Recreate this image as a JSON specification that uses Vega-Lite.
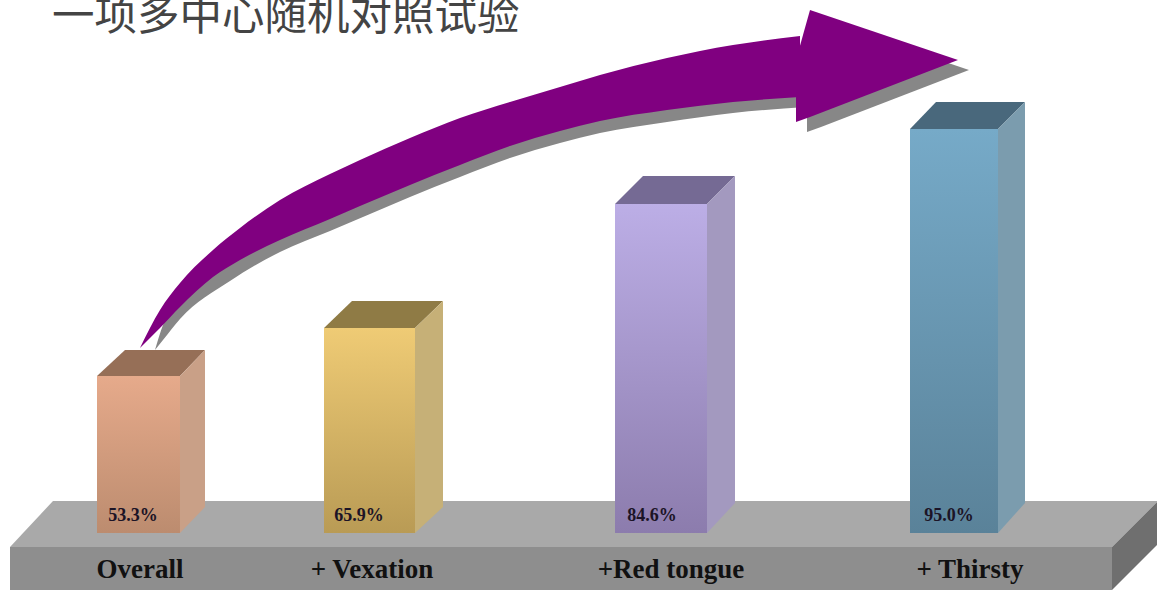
{"$schema":"https://vega.github.io/schema/vega-lite/v6.json","width":1157,"height":590,"padding":0,"autosize":{"type":"none"},"background":"white","config":{"view":{"stroke":null}},"title":{"text":"一项多中心随机对照试验","anchor":"start","frame":"group","font":"Noto Sans CJK SC","fontSize":42.5,"fontWeight":"normal","color":"#444444","baseline":"alphabetic","offset":-72,"dx":52},"datasets":{"bars":[{"condition":"Overall","label":"Overall","step":1,"rate":53.3,"text":"53.3%"},{"condition":"Vexation","label":"+ Vexation","step":2,"rate":65.9,"text":"65.9%"},{"condition":"Red tongue","label":"+Red tongue","step":3,"rate":84.6,"text":"84.6%"},{"condition":"Thirsty","label":"+ Thirsty","step":4,"rate":95.0,"text":"95.0%"}],"scene":[{"part":"floor top","across":10,"upper":547,"lower":547},{"part":"floor top","across":53,"upper":501,"lower":547},{"part":"floor top","across":1112,"upper":501,"lower":547},{"part":"floor top","across":1157,"upper":501,"lower":502},{"part":"floor front","across":10,"upper":547,"lower":590},{"part":"floor front","across":1112,"upper":547,"lower":590},{"part":"floor side","across":1112,"upper":547,"lower":590},{"part":"floor side","across":1157,"upper":502,"lower":545},{"part":"shadow head","across":807,"upper":70,"lower":132},{"part":"shadow head","across":821,"upper":20,"lower":127},{"part":"shadow head","across":969,"upper":70,"lower":70},{"part":"shadow body","across":155,"upper":350,"lower":350},{"part":"shadow body","across":163,"upper":325,"lower":340},{"part":"shadow body","across":180,"upper":300,"lower":319},{"part":"shadow body","across":230,"upper":262,"lower":281},{"part":"shadow body","across":280,"upper":225,"lower":252},{"part":"shadow body","across":330,"upper":200,"lower":231},{"part":"shadow body","across":370,"upper":180,"lower":214},{"part":"shadow body","across":410,"upper":165,"lower":197},{"part":"shadow body","across":460,"upper":145,"lower":177},{"part":"shadow body","across":510,"upper":130,"lower":158},{"part":"shadow body","across":560,"upper":115,"lower":143},{"part":"shadow body","across":600,"upper":105,"lower":133},{"part":"shadow body","across":667,"upper":90,"lower":122},{"part":"shadow body","across":733,"upper":80,"lower":113},{"part":"shadow body","across":806,"upper":70,"lower":107},{"part":"arrow body","across":140,"upper":348,"lower":348},{"part":"arrow body","across":160,"upper":310,"lower":328},{"part":"arrow body","across":180,"upper":283,"lower":307},{"part":"arrow body","across":213,"upper":250,"lower":277},{"part":"arrow body","across":240,"upper":228,"lower":260},{"part":"arrow body","across":280,"upper":200,"lower":240},{"part":"arrow body","across":330,"upper":174,"lower":219},{"part":"arrow body","across":360,"upper":160,"lower":206},{"part":"arrow body","across":410,"upper":138,"lower":185},{"part":"arrow body","across":460,"upper":118,"lower":165},{"part":"arrow body","across":510,"upper":102,"lower":146},{"part":"arrow body","across":560,"upper":87,"lower":131},{"part":"arrow body","across":600,"upper":75,"lower":121},{"part":"arrow body","across":667,"upper":58,"lower":110},{"part":"arrow body","across":733,"upper":45,"lower":102},{"part":"arrow body","across":800,"upper":36,"lower":97},{"part":"arrow head","across":796,"upper":60,"lower":122},{"part":"arrow head","across":810,"upper":10,"lower":117},{"part":"arrow head","across":958,"upper":60,"lower":60},{"part":"overall top","across":97,"upper":376,"lower":376},{"part":"overall top","across":125,"upper":350,"lower":376},{"part":"overall top","across":180,"upper":350,"lower":376},{"part":"overall top","across":205,"upper":350,"lower":350},{"part":"overall side","across":180,"upper":376,"lower":533},{"part":"overall side","across":205,"upper":350,"lower":507},{"part":"vexation top","across":324,"upper":328,"lower":328},{"part":"vexation top","across":352,"upper":301,"lower":328},{"part":"vexation top","across":415,"upper":301,"lower":328},{"part":"vexation top","across":443,"upper":301,"lower":301},{"part":"vexation side","across":415,"upper":328,"lower":533},{"part":"vexation side","across":443,"upper":301,"lower":507},{"part":"red top","across":615,"upper":204,"lower":204},{"part":"red top","across":643,"upper":176,"lower":204},{"part":"red top","across":707,"upper":176,"lower":204},{"part":"red top","across":735,"upper":176,"lower":176},{"part":"red side","across":707,"upper":204,"lower":533},{"part":"red side","across":735,"upper":176,"lower":503},{"part":"thirsty top","across":910,"upper":129,"lower":129},{"part":"thirsty top","across":936,"upper":102,"lower":129},{"part":"thirsty top","across":998,"upper":102,"lower":129},{"part":"thirsty top","across":1025,"upper":102,"lower":102},{"part":"thirsty side","across":998,"upper":129,"lower":533},{"part":"thirsty side","across":1025,"upper":102,"lower":503}]},"layer":[{"data":{"name":"scene"},"transform":[{"filter":"indexof(['floor top','floor front','floor side','shadow head'],datum.part)>=0"}],"mark":{"type":"area","orient":"vertical"},"encoding":{"x":{"field":"across","type":"quantitative","axis":null,"scale":{"domain":[0,1157],"range":[0,1157],"nice":false,"zero":false}},"y":{"field":"upper","type":"quantitative","axis":null,"stack":null,"scale":{"domain":[0,590],"range":[0,590],"nice":false,"zero":false}},"y2":{"field":"lower"},"color":{"field":"part","type":"nominal","legend":null,"sort":null,"scale":{"domain":["floor top","floor front","floor side","shadow head"],"range":["#a9a9a9","#8e8e8e","#6f6f6f","#878787"]}}}},{"data":{"name":"scene"},"transform":[{"filter":"datum.part=='shadow body'"}],"mark":{"type":"area","orient":"vertical","interpolate":"monotone","color":"#878787"},"encoding":{"x":{"field":"across","type":"quantitative","axis":null,"scale":{"domain":[0,1157],"range":[0,1157],"nice":false,"zero":false}},"y":{"field":"upper","type":"quantitative","axis":null,"stack":null,"scale":{"domain":[0,590],"range":[0,590],"nice":false,"zero":false}},"y2":{"field":"lower"}}},{"data":{"name":"scene"},"transform":[{"filter":"datum.part=='arrow body'"}],"mark":{"type":"area","orient":"vertical","interpolate":"monotone","color":"#800080"},"encoding":{"x":{"field":"across","type":"quantitative","axis":null,"scale":{"domain":[0,1157],"range":[0,1157],"nice":false,"zero":false}},"y":{"field":"upper","type":"quantitative","axis":null,"stack":null,"scale":{"domain":[0,590],"range":[0,590],"nice":false,"zero":false}},"y2":{"field":"lower"}}},{"data":{"name":"scene"},"transform":[{"filter":"indexof(['floor top','floor front','floor side','shadow head','shadow body','arrow body'],datum.part)<0"}],"mark":{"type":"area","orient":"vertical"},"encoding":{"x":{"field":"across","type":"quantitative","axis":null,"scale":{"domain":[0,1157],"range":[0,1157],"nice":false,"zero":false}},"y":{"field":"upper","type":"quantitative","axis":null,"stack":null,"scale":{"domain":[0,590],"range":[0,590],"nice":false,"zero":false}},"y2":{"field":"lower"},"color":{"field":"part","type":"nominal","legend":null,"sort":null,"scale":{"domain":["arrow head","overall top","overall side","vexation top","vexation side","red top","red side","thirsty top","thirsty side"],"range":["#800080","#966f57","#c9a087","#8f7b45","#c6b077","#756a94","#a399bf","#49687c","#7b9cae"]}}}},{"data":{"name":"bars"},"transform":[{"filter":"datum.step==1"}],"mark":{"type":"bar","orient":"vertical","width":83,"color":{"gradient":"linear","x1":0,"y1":0,"x2":0,"y2":1,"stops":[{"offset":0,"color":"#e6aa8b"},{"offset":1,"color":"#bc8c6f"}]}},"encoding":{"x":{"field":"step","type":"quantitative","axis":null,"scale":{"domain":[1,2,3,4],"range":[138.5,369.5,661,954],"nice":false,"zero":false,"padding":0}},"y":{"field":"rate","type":"quantitative","axis":null,"stack":null,"scale":{"domain":[0,53.3,65.9,84.6,95],"range":[533,376,328,204,129],"nice":false,"zero":false}}}},{"data":{"name":"bars"},"transform":[{"filter":"datum.step==2"}],"mark":{"type":"bar","orient":"vertical","width":91,"color":{"gradient":"linear","x1":0,"y1":0,"x2":0,"y2":1,"stops":[{"offset":0,"color":"#efcb75"},{"offset":1,"color":"#b99b55"}]}},"encoding":{"x":{"field":"step","type":"quantitative","axis":null,"scale":{"domain":[1,2,3,4],"range":[138.5,369.5,661,954],"nice":false,"zero":false,"padding":0}},"y":{"field":"rate","type":"quantitative","axis":null,"stack":null,"scale":{"domain":[0,53.3,65.9,84.6,95],"range":[533,376,328,204,129],"nice":false,"zero":false}}}},{"data":{"name":"bars"},"transform":[{"filter":"datum.step==3"}],"mark":{"type":"bar","orient":"vertical","width":92,"color":{"gradient":"linear","x1":0,"y1":0,"x2":0,"y2":1,"stops":[{"offset":0,"color":"#bcaee6"},{"offset":1,"color":"#8c7cad"}]}},"encoding":{"x":{"field":"step","type":"quantitative","axis":null,"scale":{"domain":[1,2,3,4],"range":[138.5,369.5,661,954],"nice":false,"zero":false,"padding":0}},"y":{"field":"rate","type":"quantitative","axis":null,"stack":null,"scale":{"domain":[0,53.3,65.9,84.6,95],"range":[533,376,328,204,129],"nice":false,"zero":false}}}},{"data":{"name":"bars"},"transform":[{"filter":"datum.step==4"}],"mark":{"type":"bar","orient":"vertical","width":88,"color":{"gradient":"linear","x1":0,"y1":0,"x2":0,"y2":1,"stops":[{"offset":0,"color":"#76aac8"},{"offset":1,"color":"#5a8299"}]}},"encoding":{"x":{"field":"step","type":"quantitative","axis":null,"scale":{"domain":[1,2,3,4],"range":[138.5,369.5,661,954],"nice":false,"zero":false,"padding":0}},"y":{"field":"rate","type":"quantitative","axis":null,"stack":null,"scale":{"domain":[0,53.3,65.9,84.6,95],"range":[533,376,328,204,129],"nice":false,"zero":false}}}},{"data":{"name":"bars"},"mark":{"type":"text","font":"Liberation Serif","fontWeight":"bold","fontSize":18,"color":"#1c1426","dy":-17,"align":"center","baseline":"middle"},"encoding":{"x":{"field":"step","type":"quantitative","axis":null,"scale":{"domain":[1,2,3,4],"range":[133,359,652,949],"nice":false,"zero":false}},"y":{"datum":0,"type":"quantitative","axis":null,"scale":{"domain":[0,95],"range":[533,129],"nice":false,"zero":false}},"text":{"field":"text"}}},{"data":{"name":"bars"},"mark":{"type":"text","font":"Liberation Serif","fontWeight":"bold","fontSize":27,"color":"#111111","dy":37,"align":"center","baseline":"middle"},"encoding":{"x":{"field":"step","type":"quantitative","axis":null,"scale":{"domain":[1,2,3,4],"range":[140,372,671,970],"nice":false,"zero":false}},"y":{"datum":0,"type":"quantitative","axis":null,"scale":{"domain":[0,95],"range":[533,129],"nice":false,"zero":false}},"text":{"field":"label"}}}],"resolve":{"scale":{"x":"independent","y":"independent","color":"independent"}}}
